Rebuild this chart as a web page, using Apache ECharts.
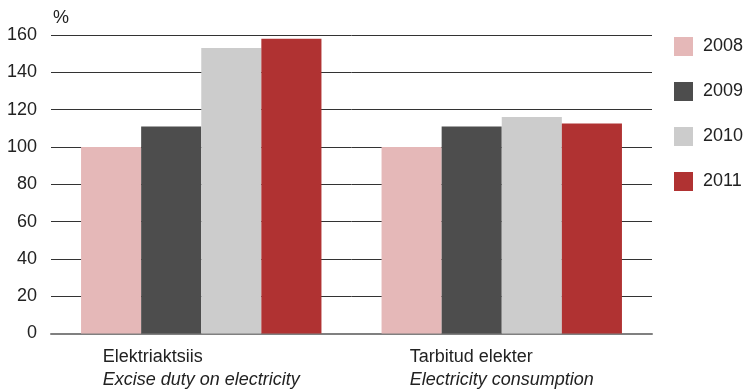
<!DOCTYPE html>
<html>
<head>
<meta charset="utf-8">
<style>
  html, body { margin: 0; padding: 0; background: #fff; }
  #chart { width: 744px; height: 389px; }
</style>
<script src="https://cdn.jsdelivr.net/npm/echarts@6/dist/echarts.min.js"></script>
</head>
<body>
<div id="chart"></div>
<script>
// Categories: Estonian name and English translation
const categoriesEt = ['Elektriaktsiis', 'Tarbitud elekter'];
const categoriesEn = ['Excise duty on electricity', 'Electricity consumption'];

// Years shown in the legend
const years = ['2008', '2009', '2010', '2011'];

// Index values (2008 = 100), one array per year
const values2008 = [100, 100];
const values2009 = [111, 111];
const values2010 = [153, 116];
const values2011 = [158, 112.5];

const yTicks = [0, 20, 40, 60, 80, 100, 120, 140, 160];
const yUnit = '%';

const colors = ['#e5b8b8', '#4d4d4d', '#cccccc', '#b03232'];
const seriesValues = [values2008, values2009, values2010, values2011];

const font = 'Arial, "Liberation Sans", sans-serif';
const fs = 18;

const chart = echarts.init(document.getElementById('chart'), null, { renderer: 'canvas' });

chart.setOption({
  animation: false,
  textStyle: { fontFamily: font },
  grid: { left: 51, right: 92, top: 35, bottom: 54, containLabel: false },
  legend: {
    orient: 'vertical',
    left: 674,
    top: 37,
    padding: 0,
    itemWidth: 19,
    itemHeight: 19,
    itemGap: 26,
    icon: 'rect',
    textStyle: { fontSize: fs, color: '#222', fontFamily: font, padding: [0, 0, 0, 5] },
    data: years
  },
  xAxis: {
    type: 'category',
    data: categoriesEt.map((c, i) => c + '\n' + categoriesEn[i]),
    axisLine: { show: true, lineStyle: { color: '#808080', width: 2 } },
    axisTick: { show: false },
    axisLabel: {
      margin: 12,
      align: 'center',
      formatter: function (v) {
        const parts = v.split('\n');
        return '{a|' + parts[0] + '}\n{b|' + parts[1] + '}';
      },
      rich: {
        a: { fontSize: fs, color: '#222', fontFamily: font, align: 'left', lineHeight: 23 },
        b: { fontSize: fs, color: '#222', fontFamily: font, fontStyle: 'italic', align: 'left', lineHeight: 23 }
      }
    }
  },
  yAxis: {
    type: 'value',
    min: yTicks[0],
    max: yTicks[yTicks.length - 1],
    interval: yTicks[1] - yTicks[0],
    name: yUnit,
    nameLocation: 'end',
    nameGap: 8,
    nameTextStyle: { fontSize: fs, color: '#222', fontFamily: font, align: 'left', padding: [0, 0, 0, 2] },
    axisLine: { show: false },
    axisTick: { show: false },
    axisLabel: { fontSize: fs, color: '#222', margin: 14, fontFamily: font },
    splitLine: { show: true, lineStyle: { color: '#333', width: 1 } }
  },
  series: years.map((y, i) => ({
    name: y,
    type: 'bar',
    data: seriesValues[i],
    barGap: '0%',
    barCategoryGap: '20%',
    itemStyle: { color: colors[i] }
  }))
});
</script>
</body>
</html>
